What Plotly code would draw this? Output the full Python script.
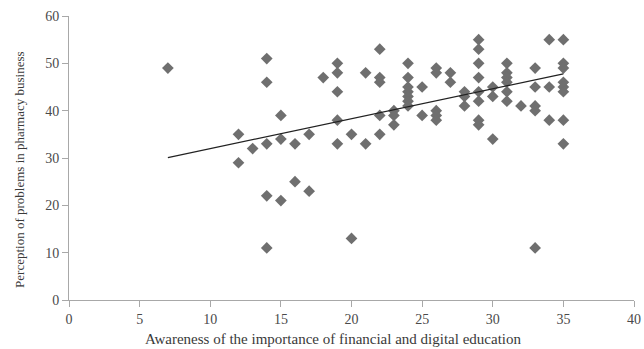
import plotly.graph_objects as go

# Data (awareness score, perception score)
awareness = [7,
             12, 12,
             13,
             14, 14, 14, 14, 14,
             15, 15, 15,
             16, 16,
             17, 17,
             18,
             19, 19, 19, 19, 19,
             20, 20,
             21, 21,
             22, 22, 22, 22, 22,
             23, 23, 23,
             24, 24, 24, 24, 24, 24, 24,
             25, 25,
             26, 26, 26, 26, 26,
             27, 27,
             28, 28, 28,
             29, 29, 29, 29, 29, 29, 29, 29,
             30, 30, 30,
             31, 31, 31, 31, 31, 31,
             32,
             33, 33, 33, 33, 33,
             34, 34, 34,
             35, 35, 35, 35, 35, 35, 35, 35]
perception = [49,
              35, 29,
              32,
              51, 46, 33, 22, 11,
              39, 34, 21,
              33, 25,
              35, 23,
              47,
              50, 48, 44, 38, 33,
              35, 13,
              48, 33,
              53, 47, 46, 39, 35,
              40, 39, 37,
              50, 47, 45, 44, 43, 42, 41,
              45, 39,
              49, 48, 40, 39, 38,
              48, 46,
              44, 43, 41,
              55, 53, 50, 47, 44, 42, 38, 37,
              45, 43, 34,
              50, 48, 47, 46, 44, 42,
              41,
              49, 45, 41, 40, 11,
              55, 45, 38,
              55, 50, 49, 46, 45, 44, 38, 33]

# Linear trend line
trend_x = [7, 35]
trend_slope = 0.632
trend_intercept = 25.67
trend_y = [trend_intercept + trend_slope * v for v in trend_x]

x_ticks = [0, 5, 10, 15, 20, 25, 30, 35, 40]
y_ticks = [0, 10, 20, 30, 40, 50, 60]

x_title = "Awareness of the importance of financial and digital education"
y_title = "Perception of problems in pharmacy business"

fig = go.Figure()
fig.add_trace(go.Scatter(
    x=awareness, y=perception, mode="markers",
    marker=dict(symbol="diamond", size=9, color="#6f6f6f"),
    showlegend=False, hoverinfo="x+y",
))
fig.add_trace(go.Scatter(
    x=trend_x, y=trend_y, mode="lines",
    line=dict(color="#222222", width=1.2),
    showlegend=False, hoverinfo="skip",
))

font_family = "Liberation Serif, Times New Roman, serif"
fig.update_layout(
    width=644, height=349,
    margin=dict(l=69, r=10, t=16, b=49),
    paper_bgcolor="white", plot_bgcolor="white",
    font=dict(family=font_family, size=12, color="#3a3a3a"),
    annotations=[
        dict(text=x_title, xref="paper", yref="paper", x=0.468, y=0,
             xanchor="center", yanchor="middle", yshift=-39, showarrow=False,
             font=dict(family=font_family, size=15, color="#3a3a3a")),
        dict(text=y_title, xref="paper", yref="paper", x=0, y=0.458,
             xanchor="center", yanchor="middle", xshift=-49, textangle=-90,
             showarrow=False,
             font=dict(family=font_family, size=13, color="#3a3a3a")),
    ],
)
fig.update_xaxes(
    range=[0, 40], tickvals=x_ticks, ticktext=[str(v) for v in x_ticks],
    showgrid=False, zeroline=False, showline=True, linecolor="#a8a8a8", linewidth=1,
    ticks="outside", ticklen=6, tickcolor="#a8a8a8", automargin=False,
    tickfont=dict(family=font_family, size=14, color="#4a4a4a"),
)
fig.update_yaxes(
    range=[0, 60], tickvals=y_ticks, ticktext=[str(v) for v in y_ticks],
    showgrid=False, zeroline=False, showline=True, linecolor="#a8a8a8", linewidth=1,
    ticks="outside", ticklen=6, tickcolor="#a8a8a8", automargin=False,
    tickfont=dict(family=font_family, size=14, color="#4a4a4a"),
)

# Remove the default 8px page margin so the figure fills the window exactly.
fig.write_html(
    "out.html",
    config={"displayModeBar": False},
    post_script="document.body.style.margin='0';document.body.style.overflow='hidden';",
)
